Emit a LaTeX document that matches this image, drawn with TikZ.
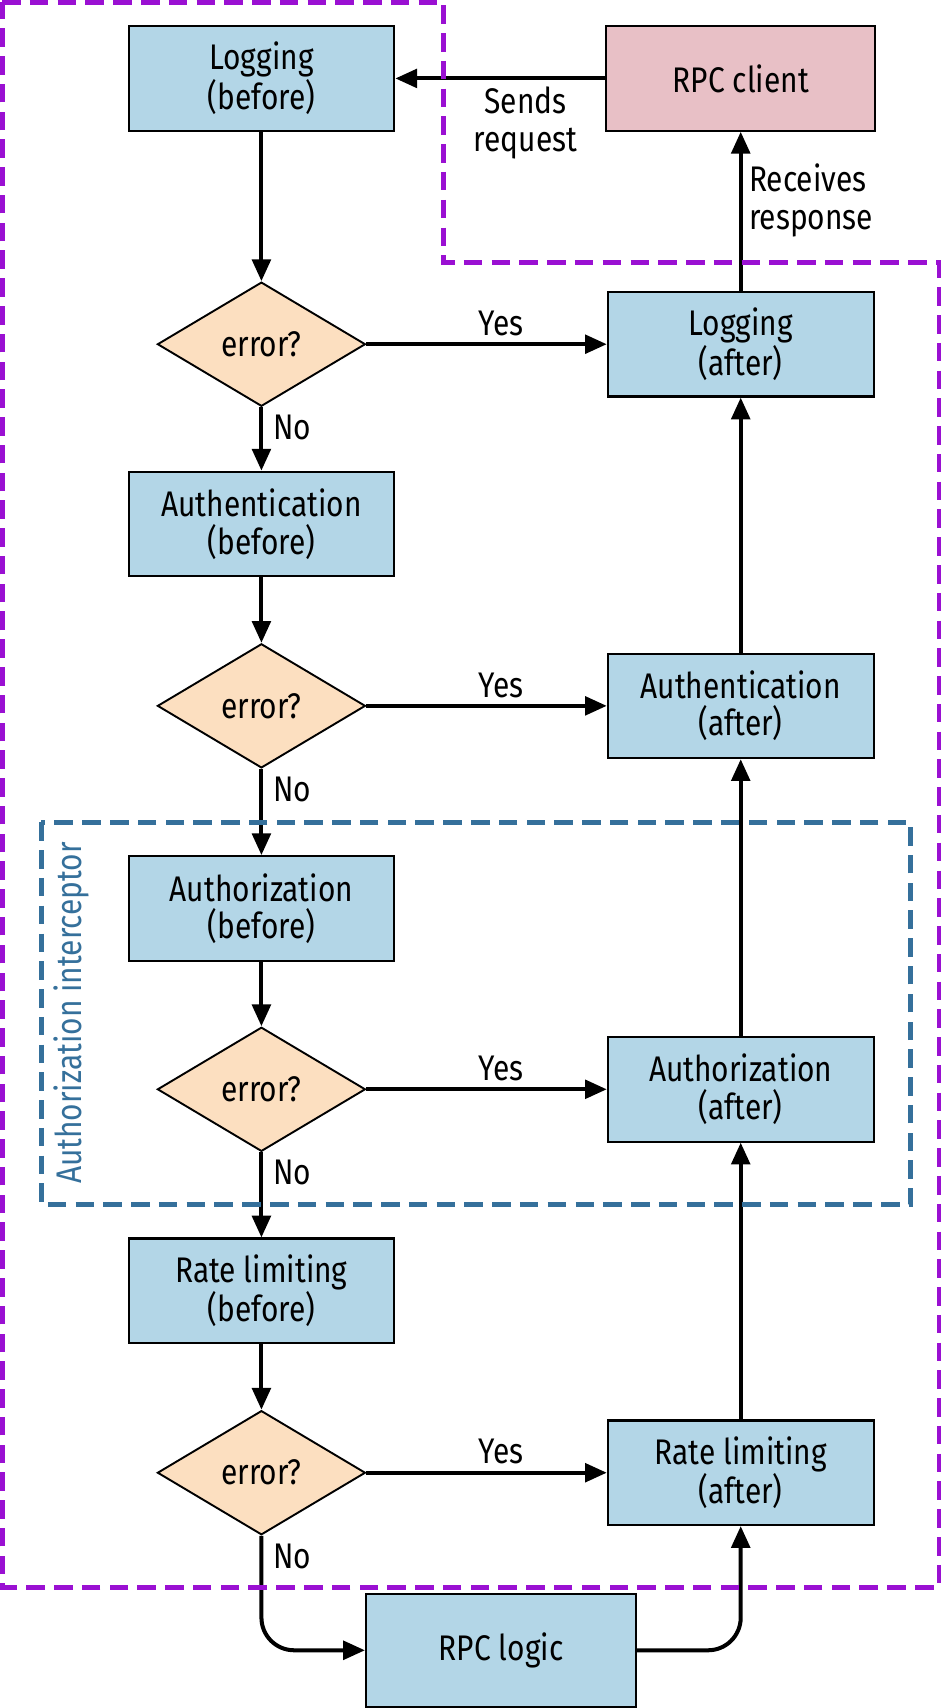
\documentclass[tikz,border=0pt]{standalone}
\usepackage{fontspec}
\setmainfont{Fira Sans}[FakeStretch=0.84]
\usetikzlibrary{arrows.meta,shapes.geometric}

\definecolor{stageblue}{HTML}{B3D6E7}
\definecolor{checkpeach}{HTML}{FCDFC0}
\definecolor{clientpink}{HTML}{E8C0C6}
\definecolor{serverpurple}{HTML}{9A10D2}
\definecolor{authzblue}{HTML}{35709B}

\begin{document}
\begin{tikzpicture}[
    x=0.02cm, y=-0.02cm,
    font=\fontsize{18.6pt}{19.6pt}\selectfont,
    stage/.style={draw=black, line width=1.1pt, fill=stageblue, minimum width=4.88cm, minimum height=1.92cm, inner sep=0pt, align=center},
    check/.style={diamond, draw=black, line width=1pt, fill=checkpeach, minimum width=3.82cm, minimum height=2.28cm, inner sep=0pt},
    flow/.style={-{Triangle[length=0.4cm, width=0.34cm]}, line width=2.1pt},
    nolbl/.style={pos=0, anchor=north west, inner xsep=5pt, inner ysep=3pt},
    frame/.style={line width=2.5pt, dash pattern=on 0.34cm off 0.17cm}
]

% Dimensions
\def\xL{240}
\def\xR{680}

\useasboundingbox (0,0) rectangle (865,1568);

% ============================================================
% Interceptor chain
% ============================================================

\node[stage, fill=clientpink, minimum width=4.94cm] (rpc) at (\xR,72) {RPC client};

\foreach \i/\name/\yb/\ye in {1/Logging/72/316, 2/Authentication/481/648, 3/Authorization/834/1000, 4/Rate limiting/1185/1352} {
    \node[stage] (before\i) at (\xL,\yb) {\name\\(before)};
    \node[check] (err\i) at (\xL,\ye) {error?};
    \node[stage] (after\i) at (\xR,\ye) {\name\\(after)};
    \draw[flow] (before\i) -- (err\i);
    \draw[flow] (err\i) -- node[above, pos=0.56] {Yes} (after\i);
}

\foreach \i/\j in {1/2, 2/3, 3/4} {
    \draw[flow] (err\i) -- node[nolbl] {No} (before\j);
    \draw[flow] (after\j) -- (after\i);
}

% Request and response
\draw[flow] (rpc) -- node[below, pos=0.38, align=center] {Sends\\request} (before1);
\draw[flow] (after1) -- node[right, pos=0.57, align=left] {Receives\\response} (rpc);

% ============================================================
% RPC logic
% ============================================================

\node[stage, minimum width=4.96cm, minimum height=2.08cm] (logic) at (460,1515) {RPC logic};
\draw[flow, rounded corners=0.6cm] (err4.south) |- node[nolbl] {No} (logic.west);
\draw[flow, rounded corners=0.6cm] (logic.east) -| (after4.south);

% Frames
\draw[frame, serverpurple] (2,2) -- (407,2) -- (407,241) -- (862,241) -- (862,1457) -- (2,1457) -- cycle;
\draw[frame, authzblue] (38,755) rectangle (836,1106);
\node[authzblue, rotate=90] (authz) at (66,930) {Authorization interceptor};
\end{tikzpicture}
\end{document}
